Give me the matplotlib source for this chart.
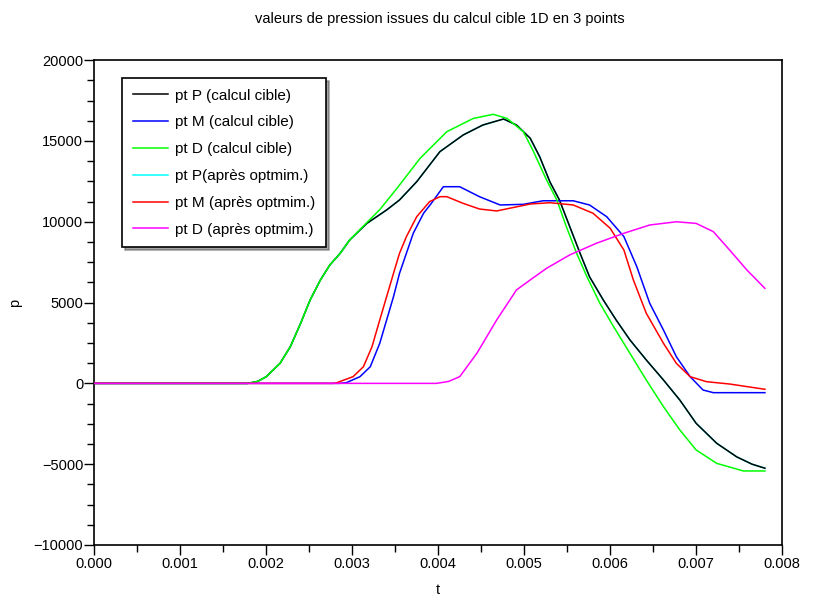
import matplotlib
matplotlib.use("Agg")
import matplotlib.pyplot as plt
from matplotlib.ticker import MultipleLocator, FuncFormatter

plt.rcParams['font.family'] = ['Liberation Sans', 'DejaVu Sans']

# pt P (calcul cible)
t_P = [0, 0.00178, 0.00190, 0.00200, 0.00216, 0.00228, 0.00240, 0.00251, 0.00263, 0.00274,
       0.00286, 0.00297, 0.00317, 0.00340, 0.00355, 0.00375, 0.00402, 0.00429, 0.00452,
       0.00476, 0.00491, 0.00507, 0.00518, 0.00530, 0.00541, 0.00553, 0.00565, 0.00576,
       0.00592, 0.00607, 0.00623, 0.00642, 0.00662, 0.00681, 0.00700, 0.00724, 0.00747,
       0.00765, 0.00780]
p_P = [0, 0, 120, 415, 1240, 2270, 3720, 5160, 6400, 7330,
       8050, 8870, 9900, 10730, 11350, 12480, 14340, 15370, 15990,
       16360, 15990, 15170, 14029, 12460, 11350, 9700, 8050, 6600,
       5160, 3920, 2690, 1450, 210, -1030, -2470, -3710, -4540,
       -5000, -5250]

# pt M (calcul cible)
t_M = [0, 0.00285, 0.00293, 0.00309, 0.00321, 0.00332, 0.00340, 0.00348, 0.00355, 0.00363,
       0.00371, 0.00383, 0.00392, 0.00406, 0.00425, 0.00448, 0.00472, 0.00499, 0.00522,
       0.00557, 0.00576, 0.00596, 0.00616, 0.00631, 0.00646, 0.00662, 0.00677, 0.00693,
       0.00708, 0.00720, 0.00780]
p_M = [0, 0, 40, 415, 1030, 2480, 3920, 5365, 6810, 8050,
       9290, 10530, 11140, 12170, 12170, 11553, 11040, 11080, 11300,
       11300, 11040, 10315, 9080, 7220, 4960, 3300, 1650, 415,
       -410, -575, -575]

# pt D (calcul cible)
t_D = [0, 0.00178, 0.00190, 0.00200, 0.00216, 0.00228, 0.00240, 0.00251, 0.00263, 0.00274,
       0.00286, 0.00297, 0.00317, 0.00332, 0.00352, 0.00379, 0.00410, 0.00441, 0.00464,
       0.00480, 0.00499, 0.00510, 0.00526, 0.00538, 0.00549, 0.00561, 0.00573, 0.00588,
       0.00604, 0.00623, 0.00642, 0.00662, 0.00681, 0.00700, 0.00724, 0.00755, 0.00780]
p_D = [0, 0, 120, 415, 1240, 2270, 3720, 5160, 6400, 7330,
       8050, 8870, 9950, 10750, 12070, 13930, 15575, 16400, 16650,
       16400, 15575, 14440, 12590, 11350, 9700, 8050, 6600, 4960,
       3510, 1860, 210, -1440, -2880, -4120, -4950, -5420, -5420]

# pt P (après optim.) -- coincides with pt P (calcul cible)
t_P_opt = list(t_P)
p_P_opt = list(p_P)

# pt M (après optim.)
t_M_opt = [0, 0.00278, 0.00282, 0.00301, 0.00313, 0.00323, 0.00332, 0.00340, 0.00348, 0.00355,
           0.00363, 0.00375, 0.00390, 0.00402, 0.00410, 0.00429, 0.00448, 0.00468, 0.00483,
           0.00507, 0.00530, 0.00557, 0.00580, 0.00600, 0.00616, 0.00627, 0.00642, 0.00662,
           0.00677, 0.00693, 0.00712, 0.00739, 0.00780]
p_M_opt = [0, 0, 40, 415, 1030, 2270, 3920, 5365, 6810, 8050,
           9080, 10315, 11245, 11553, 11553, 11140, 10790, 10670, 10835,
           11100, 11180, 11040, 10530, 9600, 8250, 6400, 4340, 2480,
           1240, 415, 105, -40, -365]

# pt D (après optim.)
t_D_opt = [0, 0.00398, 0.00412, 0.00425, 0.00445, 0.00468, 0.00491, 0.00507, 0.00526,
           0.00553, 0.00584, 0.00616, 0.00646, 0.00677, 0.00700, 0.00720, 0.00739,
           0.00759, 0.00780]
p_D_opt = [0, 0, 120, 415, 1862, 3923, 5780, 6400, 7120,
           7950, 8670, 9290, 9800, 10000, 9900, 9390, 8250,
           7020, 5880]

labels = ["pt P (calcul cible)", "pt M (calcul cible)", "pt D (calcul cible)",
          "pt P(après optmim.)", "pt M (après optmim.)", "pt D (après optmim.)"]
colors = ["#000000", "#0000ff", "#00ff00", "#00ffff", "#ff0000", "#ff00ff"]

x_ticks = [0.000, 0.001, 0.002, 0.003, 0.004, 0.005, 0.006, 0.007, 0.008]
y_ticks = [-10000, -5000, 0, 5000, 10000, 15000, 20000]

fig = plt.figure(figsize=(8.13, 6.00), dpi=100)
ax = fig.add_axes([0.116, 0.0917, 0.846, 0.808])

series = [(t_P, p_P), (t_M, p_M), (t_D, p_D), (t_P_opt, p_P_opt), (t_M_opt, p_M_opt), (t_D_opt, p_D_opt)]
zorders = [3, 3, 4, 2, 5, 6]
handles = []
for (tt, pp), lab, col, z in zip(series, labels, colors, zorders):
    h, = ax.plot(tt, pp, color=col, lw=1.1, label=lab, zorder=z)
    handles.append(h)

ax.set_xlim(0, 0.008)
ax.set_ylim(-10000, 20000)
ax.set_xticks(x_ticks)
ax.set_yticks(y_ticks)
ax.xaxis.set_major_formatter(FuncFormatter(lambda v, pos: f"{v:.3f}"))
ax.yaxis.set_major_formatter(FuncFormatter(lambda v, pos: f"{int(round(v))}".replace('-', '\u2212')))
ax.xaxis.set_minor_locator(MultipleLocator(0.0005))
ax.yaxis.set_minor_locator(MultipleLocator(1250))
ax.tick_params(axis='both', which='major', direction='out', length=7, width=1.0,
               labelsize=10.5, colors='black')
ax.tick_params(axis='x', which='major', pad=2)
ax.tick_params(axis='y', which='major', pad=1)
ax.tick_params(axis='both', which='minor', direction='out', length=5, width=1.0)
for s in ax.spines.values():
    s.set_linewidth(1.2)
    s.set_color('black')

ax.set_xlabel('t', fontsize=10.5, labelpad=8)
ax.set_ylabel('p', fontsize=10.5, labelpad=8)
fig.text(0.541, 0.968, 'valeurs de pression issues du calcul cible 1D en 3 points',
         ha='center', va='center', fontsize=10.5)

leg = ax.legend(handles=handles, loc='upper left', bbox_to_anchor=(0.040, 0.9635),
                fontsize=11, frameon=True, fancybox=False, shadow=True,
                edgecolor='black', framealpha=1, handlelength=2.35, handletextpad=0.46,
                labelspacing=0.84, borderpad=0.7, borderaxespad=0)
leg.get_frame().set_linewidth(1.2)

fig.savefig('out.png', dpi=100)
